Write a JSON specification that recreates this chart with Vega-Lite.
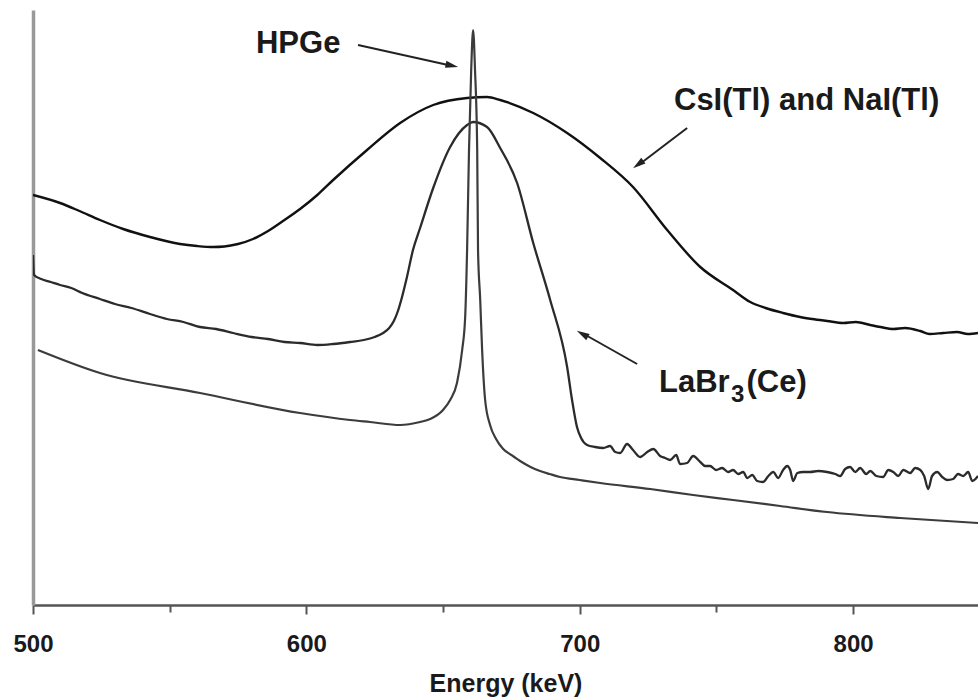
{
  "$schema": "https://vega.github.io/schema/vega-lite/v6.json",
  "autosize": "none",
  "width": 945,
  "height": 595,
  "padding": {"left": 33, "top": 10, "right": 0, "bottom": 95},
  "background": "white",
  "config": {"view": {"stroke": null}},
  "datasets": {
    "spectra": [
      {"s": "CsI", "E": 500.0, "h": 410}, {"s": "CsI", "E": 509.9, "h": 402}, {"s": "CsI", "E": 517.0, "h": 394},
      {"s": "CsI", "E": 524.5, "h": 385}, {"s": "CsI", "E": 533.0, "h": 376}, {"s": "CsI", "E": 542.8, "h": 368},
      {"s": "CsI", "E": 553.8, "h": 361}, {"s": "CsI", "E": 560.0, "h": 359}, {"s": "CsI", "E": 566.0, "h": 358},
      {"s": "CsI", "E": 570.0, "h": 358.5}, {"s": "CsI", "E": 575.0, "h": 361}, {"s": "CsI", "E": 580.5, "h": 366},
      {"s": "CsI", "E": 586.0, "h": 374}, {"s": "CsI", "E": 592.0, "h": 385}, {"s": "CsI", "E": 597.7, "h": 396},
      {"s": "CsI", "E": 604.0, "h": 410}, {"s": "CsI", "E": 609.8, "h": 425}, {"s": "CsI", "E": 622.2, "h": 455},
      {"s": "CsI", "E": 634.3, "h": 482}, {"s": "CsI", "E": 646.4, "h": 500}, {"s": "CsI", "E": 658.8, "h": 507},
      {"s": "CsI", "E": 666.1, "h": 508}, {"s": "CsI", "E": 670.9, "h": 505}, {"s": "CsI", "E": 683.0, "h": 492},
      {"s": "CsI", "E": 695.4, "h": 472}, {"s": "CsI", "E": 707.5, "h": 447}, {"s": "CsI", "E": 719.5, "h": 418},
      {"s": "CsI", "E": 732.0, "h": 375}, {"s": "CsI", "E": 744.1, "h": 338}, {"s": "CsI", "E": 756.1, "h": 315},
      {"s": "CsI", "E": 762.4, "h": 303}, {"s": "CsI", "E": 768.0, "h": 297}, {"s": "CsI", "E": 774.4, "h": 292},
      {"s": "CsI", "E": 780.6, "h": 288}, {"s": "CsI", "E": 785.0, "h": 286}, {"s": "CsI", "E": 790.5, "h": 284},
      {"s": "CsI", "E": 796.4, "h": 282}, {"s": "CsI", "E": 801.0, "h": 283}, {"s": "CsI", "E": 806.3, "h": 280},
      {"s": "CsI", "E": 810.0, "h": 278}, {"s": "CsI", "E": 814.7, "h": 276}, {"s": "CsI", "E": 819.0, "h": 277},
      {"s": "CsI", "E": 824.6, "h": 274}, {"s": "CsI", "E": 828.0, "h": 271}, {"s": "CsI", "E": 833.0, "h": 272},
      {"s": "CsI", "E": 838.0, "h": 273}, {"s": "CsI", "E": 842.0, "h": 271}, {"s": "CsI", "E": 845.7, "h": 272},

      {"s": "LaBr", "E": 500.0, "h": 350}, {"s": "LaBr", "E": 500.4, "h": 330}, {"s": "LaBr", "E": 503.0, "h": 326},
      {"s": "LaBr", "E": 506.5, "h": 323}, {"s": "LaBr", "E": 509.9, "h": 320}, {"s": "LaBr", "E": 514.0, "h": 317},
      {"s": "LaBr", "E": 518.0, "h": 312}, {"s": "LaBr", "E": 524.5, "h": 306}, {"s": "LaBr", "E": 530.0, "h": 301},
      {"s": "LaBr", "E": 536.0, "h": 297}, {"s": "LaBr", "E": 542.8, "h": 291}, {"s": "LaBr", "E": 549.0, "h": 286},
      {"s": "LaBr", "E": 555.0, "h": 283}, {"s": "LaBr", "E": 561.1, "h": 278}, {"s": "LaBr", "E": 567.0, "h": 276},
      {"s": "LaBr", "E": 573.2, "h": 272}, {"s": "LaBr", "E": 580.0, "h": 268}, {"s": "LaBr", "E": 586.0, "h": 266},
      {"s": "LaBr", "E": 592.0, "h": 263}, {"s": "LaBr", "E": 597.7, "h": 262}, {"s": "LaBr", "E": 604.0, "h": 260},
      {"s": "LaBr", "E": 609.8, "h": 261}, {"s": "LaBr", "E": 616.0, "h": 263}, {"s": "LaBr", "E": 621.0, "h": 265},
      {"s": "LaBr", "E": 625.0, "h": 268}, {"s": "LaBr", "E": 628.1, "h": 272}, {"s": "LaBr", "E": 630.3, "h": 277},
      {"s": "LaBr", "E": 632.0, "h": 284}, {"s": "LaBr", "E": 633.5, "h": 294}, {"s": "LaBr", "E": 635.0, "h": 308},
      {"s": "LaBr", "E": 636.8, "h": 328}, {"s": "LaBr", "E": 639.0, "h": 355}, {"s": "LaBr", "E": 641.6, "h": 377},
      {"s": "LaBr", "E": 646.4, "h": 417}, {"s": "LaBr", "E": 652.6, "h": 458}, {"s": "LaBr", "E": 658.8, "h": 480},
      {"s": "LaBr", "E": 661.0, "h": 483}, {"s": "LaBr", "E": 666.1, "h": 478}, {"s": "LaBr", "E": 670.9, "h": 457},
      {"s": "LaBr", "E": 677.1, "h": 422}, {"s": "LaBr", "E": 683.0, "h": 362}, {"s": "LaBr", "E": 689.2, "h": 305},
      {"s": "LaBr", "E": 695.4, "h": 238}, {"s": "LaBr", "E": 697.2, "h": 205}, {"s": "LaBr", "E": 699.0, "h": 178},
      {"s": "LaBr", "E": 700.5, "h": 167}, {"s": "LaBr", "E": 702.7, "h": 160}, {"s": "LaBr", "E": 705.6, "h": 158},
      {"s": "LaBr", "E": 708.6, "h": 157}, {"s": "LaBr", "E": 711.1, "h": 159}, {"s": "LaBr", "E": 713.0, "h": 153},
      {"s": "LaBr", "E": 714.8, "h": 152}, {"s": "LaBr", "E": 717.3, "h": 161}, {"s": "LaBr", "E": 719.5, "h": 155},
      {"s": "LaBr", "E": 722.1, "h": 148}, {"s": "LaBr", "E": 724.7, "h": 153}, {"s": "LaBr", "E": 726.9, "h": 156},
      {"s": "LaBr", "E": 729.4, "h": 149}, {"s": "LaBr", "E": 731.2, "h": 147}, {"s": "LaBr", "E": 733.1, "h": 145},
      {"s": "LaBr", "E": 735.3, "h": 150}, {"s": "LaBr", "E": 736.7, "h": 141}, {"s": "LaBr", "E": 739.3, "h": 142},
      {"s": "LaBr", "E": 741.5, "h": 149}, {"s": "LaBr", "E": 744.1, "h": 143}, {"s": "LaBr", "E": 745.9, "h": 139},
      {"s": "LaBr", "E": 747.7, "h": 139}, {"s": "LaBr", "E": 749.9, "h": 135}, {"s": "LaBr", "E": 752.1, "h": 137},
      {"s": "LaBr", "E": 754.3, "h": 133}, {"s": "LaBr", "E": 756.1, "h": 135}, {"s": "LaBr", "E": 758.0, "h": 131},
      {"s": "LaBr", "E": 759.8, "h": 133}, {"s": "LaBr", "E": 761.3, "h": 127}, {"s": "LaBr", "E": 763.1, "h": 130},
      {"s": "LaBr", "E": 764.9, "h": 124}, {"s": "LaBr", "E": 767.1, "h": 123}, {"s": "LaBr", "E": 769.0, "h": 129},
      {"s": "LaBr", "E": 770.8, "h": 133}, {"s": "LaBr", "E": 772.6, "h": 127}, {"s": "LaBr", "E": 774.4, "h": 135},
      {"s": "LaBr", "E": 775.9, "h": 139}, {"s": "LaBr", "E": 777.0, "h": 135}, {"s": "LaBr", "E": 778.1, "h": 124},
      {"s": "LaBr", "E": 779.6, "h": 132}, {"s": "LaBr", "E": 781.7, "h": 133}, {"s": "LaBr", "E": 784.3, "h": 133},
      {"s": "LaBr", "E": 787.2, "h": 134}, {"s": "LaBr", "E": 790.5, "h": 133}, {"s": "LaBr", "E": 793.5, "h": 131},
      {"s": "LaBr", "E": 795.3, "h": 129}, {"s": "LaBr", "E": 797.1, "h": 136}, {"s": "LaBr", "E": 798.9, "h": 138},
      {"s": "LaBr", "E": 800.8, "h": 133}, {"s": "LaBr", "E": 802.6, "h": 137}, {"s": "LaBr", "E": 804.8, "h": 131},
      {"s": "LaBr", "E": 806.3, "h": 134}, {"s": "LaBr", "E": 808.5, "h": 129}, {"s": "LaBr", "E": 811.0, "h": 128},
      {"s": "LaBr", "E": 812.9, "h": 135}, {"s": "LaBr", "E": 814.7, "h": 133}, {"s": "LaBr", "E": 816.5, "h": 129},
      {"s": "LaBr", "E": 818.4, "h": 135}, {"s": "LaBr", "E": 820.9, "h": 132}, {"s": "LaBr", "E": 822.7, "h": 137},
      {"s": "LaBr", "E": 824.6, "h": 135}, {"s": "LaBr", "E": 826.0, "h": 129}, {"s": "LaBr", "E": 827.5, "h": 116},
      {"s": "LaBr", "E": 828.9, "h": 129}, {"s": "LaBr", "E": 830.8, "h": 133}, {"s": "LaBr", "E": 832.6, "h": 128},
      {"s": "LaBr", "E": 834.4, "h": 125}, {"s": "LaBr", "E": 836.6, "h": 126}, {"s": "LaBr", "E": 838.4, "h": 131},
      {"s": "LaBr", "E": 840.3, "h": 129}, {"s": "LaBr", "E": 842.1, "h": 133}, {"s": "LaBr", "E": 843.6, "h": 124},
      {"s": "LaBr", "E": 845.7, "h": 129},

      {"s": "HPGe", "E": 501.8, "h": 255}, {"s": "HPGe", "E": 524.5, "h": 232}, {"s": "HPGe", "E": 561.1, "h": 212},
      {"s": "HPGe", "E": 597.7, "h": 192}, {"s": "HPGe", "E": 616.0, "h": 185}, {"s": "HPGe", "E": 623.3, "h": 183},
      {"s": "HPGe", "E": 634.3, "h": 180}, {"s": "HPGe", "E": 641.6, "h": 183}, {"s": "HPGe", "E": 645.3, "h": 186},
      {"s": "HPGe", "E": 650.0, "h": 195}, {"s": "HPGe", "E": 652.6, "h": 205}, {"s": "HPGe", "E": 655.1, "h": 222},
      {"s": "HPGe", "E": 657.0, "h": 255}, {"s": "HPGe", "E": 658.1, "h": 288}, {"s": "HPGe", "E": 658.8, "h": 355},
      {"s": "HPGe", "E": 659.5, "h": 455}, {"s": "HPGe", "E": 660.3, "h": 535}, {"s": "HPGe", "E": 661.0, "h": 575},
      {"s": "HPGe", "E": 661.7, "h": 535}, {"s": "HPGe", "E": 662.5, "h": 455}, {"s": "HPGe", "E": 662.8, "h": 355},
      {"s": "HPGe", "E": 663.6, "h": 305}, {"s": "HPGe", "E": 664.3, "h": 255}, {"s": "HPGe", "E": 665.4, "h": 205},
      {"s": "HPGe", "E": 667.2, "h": 180}, {"s": "HPGe", "E": 669.4, "h": 166}, {"s": "HPGe", "E": 672.0, "h": 156},
      {"s": "HPGe", "E": 675.0, "h": 150}, {"s": "HPGe", "E": 678.2, "h": 144}, {"s": "HPGe", "E": 682.0, "h": 138},
      {"s": "HPGe", "E": 685.5, "h": 134}, {"s": "HPGe", "E": 689.0, "h": 131}, {"s": "HPGe", "E": 692.8, "h": 128},
      {"s": "HPGe", "E": 700.0, "h": 125}, {"s": "HPGe", "E": 707.5, "h": 122}, {"s": "HPGe", "E": 725.8, "h": 116},
      {"s": "HPGe", "E": 741.5, "h": 110}, {"s": "HPGe", "E": 756.1, "h": 105}, {"s": "HPGe", "E": 773.3, "h": 99},
      {"s": "HPGe", "E": 790.5, "h": 93}, {"s": "HPGe", "E": 817.2, "h": 87}, {"s": "HPGe", "E": 845.7, "h": 82}
    ],
    "arrows": [
      {"E": 618.9, "h": 560, "E2": 653.5, "h2": 539, "hx": 653.0, "hy": 539.5, "ang": 102},
      {"E": 739.3, "h": 477, "E2": 721.5, "h2": 440, "hx": 721.6, "hy": 441.0, "ang": 234},
      {"E": 721.0, "h": 241, "E2": 701.5, "h2": 271, "hx": 701.2, "hy": 270.7, "ang": 299}
    ],
    "centerLabels": [
      {"E": 597.0, "h": 552, "t": "HPGe"},
      {"E": 783.0, "h": 495, "t": "CsI(Tl) and NaI(Tl)"}
    ],
    "leftLabels": [
      {"E": 729.0, "h": 213, "t": "LaBr"},
      {"E": 761.0, "h": 213, "t": "(Ce)"}
    ],
    "subLabels": [
      {"E": 755.3, "h": 203, "t": "3"}
    ]
  },
  "layer": [
    {
      "data": {"name": "spectra"},
      "mark": {"type": "line", "interpolate": "monotone", "clip": true},
      "encoding": {
        "x": {
          "field": "E", "type": "quantitative",
          "scale": {"domain": [500, 845.7], "nice": false, "zero": false},
          "axis": {
            "values": [500, 550, 600, 650, 700, 750, 800],
            "labelExpr": "datum.value % 100 === 0 ? datum.label : ''",
            "labelFlush": false,
            "title": "Energy (keV)",
            "domainColor": "#555555", "domainWidth": 2.5,
            "tickColor": "#555555", "tickWidth": 2,
            "tickSize": {"condition": {"test": "datum.value % 100 === 0", "value": 9}, "value": 7},
            "grid": false,
            "labelFont": "Liberation Sans", "labelFontWeight": "bold", "labelFontSize": 24, "labelColor": "#1a1a1a",
            "labelPadding": 18,
            "titleFont": "Liberation Sans", "titleFontWeight": "bold", "titleFontSize": 25, "titleColor": "#1a1a1a",
            "titlePadding": 15
          }
        },
        "y": {
          "field": "h", "type": "quantitative",
          "scale": {"domain": [0, 595], "nice": false, "zero": false},
          "axis": {
            "title": null, "labels": false, "ticks": false, "grid": false,
            "domainColor": "#999999", "domainWidth": 3.5
          }
        },
        "detail": {"field": "s"},
        "color": {
          "field": "s", "type": "nominal", "legend": null,
          "scale": {"domain": ["CsI", "LaBr", "HPGe"], "range": ["#111111", "#2b2b2b", "#3c3c3c"]}
        },
        "strokeWidth": {
          "field": "s", "type": "nominal", "legend": null,
          "scale": {"domain": ["CsI", "LaBr", "HPGe"], "range": [2.4, 2.2, 2]}
        }
      }
    },
    {
      "data": {"name": "arrows"},
      "mark": {"type": "rule", "color": "#222222", "strokeWidth": 2},
      "encoding": {
        "x": {"field": "E", "type": "quantitative"},
        "y": {"field": "h", "type": "quantitative"},
        "x2": {"field": "E2"},
        "y2": {"field": "h2"}
      }
    },
    {
      "data": {"name": "arrows"},
      "mark": {"type": "point", "shape": "M0,-1L0.5,0.8L-0.5,0.8Z", "filled": true, "fill": "#222222", "strokeWidth": 0, "size": 200, "opacity": 1},
      "encoding": {
        "x": {"field": "hx", "type": "quantitative"},
        "y": {"field": "hy", "type": "quantitative"},
        "angle": {"field": "ang", "type": "quantitative", "scale": null}
      }
    },
    {
      "data": {"name": "centerLabels"},
      "mark": {"type": "text", "align": "center", "baseline": "alphabetic", "font": "Liberation Sans", "fontWeight": "bold", "fontSize": 31, "color": "#1a1a1a"},
      "encoding": {
        "x": {"field": "E", "type": "quantitative"},
        "y": {"field": "h", "type": "quantitative"},
        "text": {"field": "t"}
      }
    },
    {
      "data": {"name": "leftLabels"},
      "mark": {"type": "text", "align": "left", "baseline": "alphabetic", "font": "Liberation Sans", "fontWeight": "bold", "fontSize": 31, "color": "#1a1a1a"},
      "encoding": {
        "x": {"field": "E", "type": "quantitative"},
        "y": {"field": "h", "type": "quantitative"},
        "text": {"field": "t"}
      }
    },
    {
      "data": {"name": "subLabels"},
      "mark": {"type": "text", "align": "left", "baseline": "alphabetic", "font": "Liberation Sans", "fontWeight": "bold", "fontSize": 24, "color": "#1a1a1a"},
      "encoding": {
        "x": {"field": "E", "type": "quantitative"},
        "y": {"field": "h", "type": "quantitative"},
        "text": {"field": "t"}
      }
    }
  ]
}
